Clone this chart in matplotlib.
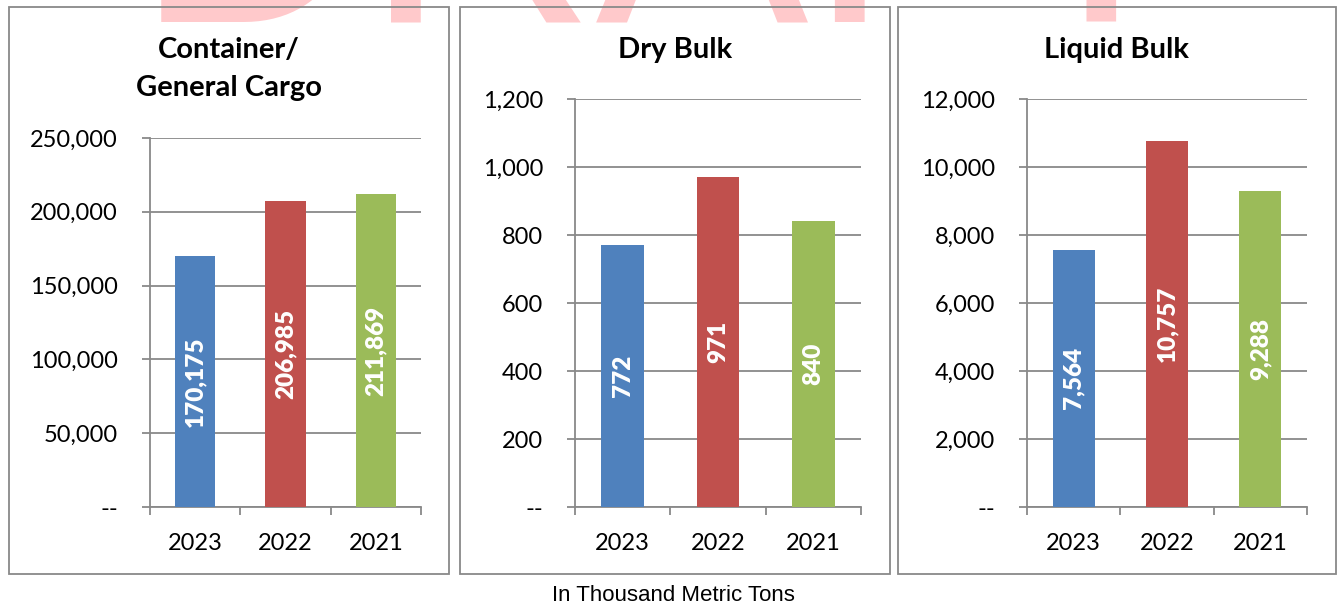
import matplotlib.pyplot as plt
from matplotlib.patches import Rectangle
from matplotlib.ticker import FuncFormatter

W, H = 1338, 604
DPI = 100

# Datos
anios = ["2023", "2022", "2021"]
colores = ["#4F81BD", "#C0504D", "#9BBB59"]

titulos = [["Container/", "General Cargo"], ["Dry Bulk"], ["Liquid Bulk"]]
contenedor = [170175, 206985, 211869]
granel_seco = [772, 971, 840]
granel_liquido = [7564, 10757, 9288]
valores = [contenedor, granel_seco, granel_liquido]

ymax = [250000, 1200, 12000]
ypaso = [50000, 200, 2000]

gris = "#898989"
plt.rcParams['font.family'] = ['Lato', 'DejaVu Sans']


def px(x, y, w, h):
    # pixeles (desde arriba) -> fraccion de figura
    return [x / W, 1 - (y + h) / H, w / W, h / H]


def formato(v, pos):
    if v == 0:
        return "--"
    return f"{v:,.0f}"


fig = plt.figure(figsize=(W / DPI, H / DPI), dpi=DPI)

# marca de agua (solo asoma la parte de abajo)
fig.text(135 / W, 1 - 22 / H, "DRAFT", fontsize=230, color="#FFC9CB",
         family="Liberation Sans", va="baseline", ha="left", zorder=0)

# cajas de los paneles
cajas = [(9, 7, 440, 567), (460, 7, 430, 567), (898, 7, 438, 567)]
for (x, y, w, h) in cajas:
    fig.add_artist(Rectangle((x / W, 1 - (y + h) / H), w / W, h / H,
                             transform=fig.transFigure, fill=False,
                             edgecolor=gris, lw=1.3, zorder=5))

# areas de grafico
areas = [(150, 138, 271, 369), (575, 99, 286, 408), (1027, 99, 280, 408)]

for i in range(3):
    ax = fig.add_axes(px(*areas[i]))
    ax.set_facecolor("none")
    barras = ax.bar(range(3), valores[i], width=0.45, color=colores, zorder=3)
    for b, v in zip(barras, valores[i]):
        ax.text(b.get_x() + b.get_width() / 2, v / 2, f"{v:,}", rotation=90,
                ha="center", va="center", color="white", fontsize=17.5,
                fontweight="heavy", zorder=4)
    ax.set_xlim(-0.5, 2.5)
    ax.set_ylim(0, ymax[i])
    ax.set_yticks(range(0, ymax[i] + 1, ypaso[i]))
    ax.yaxis.set_major_formatter(FuncFormatter(formato))
    ax.set_xticks(range(3))
    ax.set_xticklabels(anios)
    ax.set_xticks([-0.5, 0.5, 1.5, 2.5], minor=True)
    ax.grid(axis="y", color=gris, lw=1.3, zorder=1)
    for s in ["top", "right"]:
        ax.spines[s].set_visible(False)
    for s in ["left", "bottom"]:
        ax.spines[s].set_color(gris)
        ax.spines[s].set_linewidth(1.3)
    ax.tick_params(axis="y", direction="out", length=6, width=1.3, color=gris,
                   labelsize=17, pad=17)
    ax.tick_params(axis="x", which="major", length=0, labelsize=17, pad=19)
    ax.tick_params(axis="x", which="minor", direction="out", length=6,
                   width=1.3, color=gris)

    cx = (cajas[i][0] + cajas[i][2] / 2) / W
    for j, linea in enumerate(titulos[i]):
        fig.text(cx, 1 - (58 + 38 * j) / H, linea, ha="center", va="baseline",
                 fontsize=21, fontweight="bold")

fig.text(673 / W, 1 - 601 / H, "In Thousand Metric Tons", ha="center",
         va="baseline", fontsize=16,
         family=["Liberation Sans Narrow", "Liberation Sans"])

fig.savefig("out.png", dpi=DPI)
